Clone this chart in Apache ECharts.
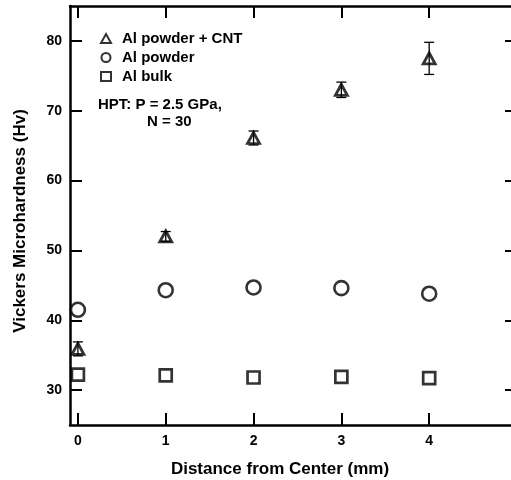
<!DOCTYPE html>
<html>
<head>
<meta charset="utf-8">
<script src="https://cdn.jsdelivr.net/npm/echarts@6/dist/echarts.min.js"></script>
<style>
  html, body { margin: 0; padding: 0; background: #fff; }
  #chart { width: 511px; height: 480px; }
</style>
</head>
<body>
<div id="chart"></div>
<script>
const distances = [0, 1, 2, 3, 4];
const powderCnt = [35.9, 52.0, 66.1, 73.0, 77.5];
const powderCntErr = [1.0, 0.7, 1.0, 1.1, 2.3];
const powder = [41.5, 44.3, 44.7, 44.6, 43.8];
const bulk = [32.2, 32.1, 31.8, 31.9, 31.7];
const xTicks = [0, 1, 2, 3, 4, 5];
const yTicks = [30, 40, 50, 60, 70, 80];

const font = '"Liberation Sans", Arial, sans-serif';
const ink = '#000';

const chart = echarts.init(document.getElementById('chart'));

const pts = (ys) => distances.map((x, i) => [x, ys[i]]);

const baseX = {
  type: 'value',
  min: -0.09,
  max: 5,
  splitLine: { show: false },
  axisLine: { show: true, onZero: false, lineStyle: { color: ink, width: 2.5 } },
  axisTick: { show: true, inside: true, length: 12, customValues: xTicks, lineStyle: { color: ink, width: 2 } },
};
const baseY = {
  type: 'value',
  min: 25,
  max: 85,
  splitLine: { show: false },
  axisLine: { show: true, onZero: false, lineStyle: { color: ink, width: 2.5 } },
  axisTick: { show: true, inside: true, length: 12, customValues: yTicks, lineStyle: { color: ink, width: 2 } },
};

const option = {
  animation: false,
  backgroundColor: '#fff',
  grid: { left: 70, top: 6, width: 447, height: 419, outerBoundsMode: 'none', containLabel: false },
  xAxis: [
    Object.assign({}, baseX, {
      position: 'bottom',
      axisLabel: {
        customValues: xTicks, margin: 9,
        color: ink, fontFamily: font, fontWeight: 'bold', fontSize: 14,
      },
    }),
    Object.assign({}, baseX, { position: 'top', axisLabel: { show: false } }),
  ],
  yAxis: [
    Object.assign({}, baseY, {
      position: 'left',
      axisLabel: {
        customValues: yTicks, margin: 8,
        color: ink, fontFamily: font, fontWeight: 'bold', fontSize: 14,
      },
    }),
    Object.assign({}, baseY, { position: 'right', axisLabel: { show: false } }),
  ],
  legend: {
    orient: 'vertical',
    left: 95,
    top: 26,
    itemWidth: 10,
    itemHeight: 9,
    itemGap: 4,
    textStyle: { color: ink, fontFamily: font, fontWeight: 'bold', fontSize: 15, padding: [0, 0, 0, 6] },
    data: ['Al powder + CNT', 'Al powder', 'Al bulk'],
  },
  graphic: [
    {
      type: 'text', x: 98, y: 105,
      style: { text: 'HPT: P = 2.5 GPa,', fill: ink, font: 'bold 15px ' + font, textVerticalAlign: 'middle' },
    },
    {
      type: 'text', x: 147, y: 122,
      style: { text: 'N = 30', fill: ink, font: 'bold 15px ' + font, textVerticalAlign: 'middle' },
    },
    {
      type: 'text', x: 280, y: 469,
      style: { text: 'Distance from Center (mm)', fill: ink, font: 'bold 17px ' + font, textAlign: 'center', textVerticalAlign: 'middle' },
    },
    {
      type: 'text', x: 20, y: 221, rotation: Math.PI / 2,
      style: { text: 'Vickers Microhardness (Hv)', fill: ink, font: 'bold 17px ' + font, textAlign: 'center', textVerticalAlign: 'middle' },
    },
  ],
  series: [
    {
      name: 'Al powder + CNT',
      type: 'scatter',
      symbol: 'triangle',
      symbolSize: [12, 11],
      itemStyle: { color: '#fff', borderColor: ink, borderWidth: 2.8 },
      data: pts(powderCnt),
      z: 3,
    },
    {
      name: 'Al powder',
      type: 'scatter',
      symbol: 'circle',
      symbolSize: 14,
      itemStyle: { color: '#fff', borderColor: ink, borderWidth: 2.6 },
      data: pts(powder),
      z: 3,
    },
    {
      name: 'Al bulk',
      type: 'scatter',
      symbol: 'rect',
      symbolSize: 12,
      itemStyle: { color: '#fff', borderColor: ink, borderWidth: 2.7 },
      data: pts(bulk),
      z: 3,
    },
    {
      name: 'errors',
      type: 'custom',
      z: 4,
      silent: true,
      data: distances.map((x, i) => [x, powderCnt[i] - powderCntErr[i], powderCnt[i] + powderCntErr[i]]),
      renderItem: (params, api) => {
        const lo = api.coord([api.value(0), api.value(1)]);
        const hi = api.coord([api.value(0), api.value(2)]);
        const w = 5;
        const style = { stroke: ink, lineWidth: 1.3 };
        return {
          type: 'group',
          children: [
            { type: 'line', shape: { x1: lo[0], y1: lo[1], x2: hi[0], y2: hi[1] }, style },
            { type: 'line', shape: { x1: lo[0] - w, y1: lo[1], x2: lo[0] + w, y2: lo[1] }, style },
            { type: 'line', shape: { x1: hi[0] - w, y1: hi[1], x2: hi[0] + w, y2: hi[1] }, style },
          ],
        };
      },
    },
  ],
};

chart.setOption(option);
</script>
</body>
</html>
